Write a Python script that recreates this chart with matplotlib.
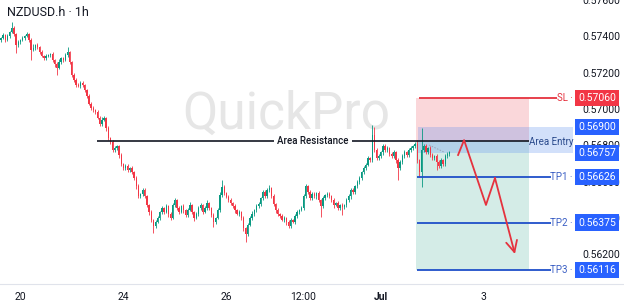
import numpy as np
import matplotlib
matplotlib.use("Agg")
import matplotlib.pyplot as plt
from matplotlib.lines import Line2D
from matplotlib.patches import Rectangle

plt.rcParams['font.family'] = ['Roboto', 'DejaVu Sans']

# hourly closes NZDUSD.h
closes = [
    0.57391, 0.57407, 0.57380, 0.57402, 0.57424, 0.57446, 0.57413, 0.57352, 0.57369, 0.57380,
    0.57391, 0.57402, 0.57413, 0.57380, 0.57325, 0.57336, 0.57352, 0.57341, 0.57314, 0.57292,
    0.57281, 0.57292, 0.57297, 0.57303, 0.57270, 0.57248, 0.57226, 0.57259, 0.57281, 0.57270,
    0.57297, 0.57314, 0.57259, 0.57187, 0.57160, 0.57132, 0.57127, 0.57143, 0.57132, 0.57105,
    0.57072, 0.57028, 0.57006, 0.56995, 0.56984, 0.56951, 0.56918, 0.56940, 0.56951, 0.56895,
    0.56840, 0.56818, 0.56774, 0.56785, 0.56796, 0.56747, 0.56697, 0.56675, 0.56686, 0.56664,
    0.56675, 0.56653, 0.56620, 0.56576, 0.56521, 0.56532, 0.56554, 0.56521, 0.56472, 0.56433,
    0.56389, 0.56356, 0.56378, 0.56400, 0.56433, 0.56455, 0.56433, 0.56466, 0.56422, 0.56400,
    0.56472, 0.56499, 0.56455, 0.56433, 0.56466, 0.56444, 0.56417, 0.56444, 0.56472, 0.56433,
    0.56400, 0.56422, 0.56455, 0.56472, 0.56433, 0.56455, 0.56483, 0.56455, 0.56417, 0.56378,
    0.56400, 0.56444, 0.56527, 0.56571, 0.56538, 0.56516, 0.56499, 0.56483, 0.56466, 0.56444,
    0.56422, 0.56433, 0.56400, 0.56345, 0.56312, 0.56362, 0.56400, 0.56422, 0.56444, 0.56466,
    0.56477, 0.56510, 0.56543, 0.56521, 0.56554, 0.56565, 0.56521, 0.56477, 0.56444, 0.56422,
    0.56411, 0.56389, 0.56400, 0.56378, 0.56356, 0.56389, 0.56378, 0.56411, 0.56433, 0.56444,
    0.56455, 0.56521, 0.56576, 0.56543, 0.56510, 0.56532, 0.56521, 0.56538, 0.56499, 0.56466,
    0.56510, 0.56527, 0.56532, 0.56521, 0.56499, 0.56472, 0.56483, 0.56455, 0.56472, 0.56461,
    0.56472, 0.56499, 0.56521, 0.56554, 0.56543, 0.56576, 0.56598, 0.56620, 0.56653, 0.56675,
    0.56692, 0.56730, 0.56719, 0.56857, 0.56774, 0.56730, 0.56741, 0.56763, 0.56796, 0.56774,
    0.56785, 0.56752, 0.56741, 0.56763, 0.56719, 0.56675, 0.56708, 0.56741, 0.56763, 0.56747,
    0.56774, 0.56785, 0.56796, 0.56807, 0.56719, 0.56653, 0.56774, 0.56796, 0.56763, 0.56785,
    0.56747, 0.56730, 0.56741, 0.56708, 0.56686, 0.56719, 0.56697, 0.56741, 0.56752, 0.56763,
]
first_open = 0.57380

# wick lengths in points (1e-5)
wick_up = [
    8, 10, 6, 12, 8, 33, 10, 6, 9, 7,
    12, 8, 10, 6, 9, 20, 8, 10, 6, 9,
    7, 10, 8, 6, 12, 7, 9, 14, 8, 6,
    10, 27, 8, 6, 10, 8, 9, 12, 10, 8,
    6, 9, 8, 12, 7, 10, 8, 14, 10, 6,
    12, 8, 10, 14, 8, 6, 10, 8, 12, 9,
    8, 10, 6, 9, 12, 8, 10, 14, 6, 8,
    10, 8, 12, 9, 7, 14, 8, 10, 6, 12,
    9, 12, 8, 10, 7, 12, 8, 10, 14, 8,
    6, 10, 9, 12, 8, 10, 14, 8, 6, 10,
    8, 12, 14, 38, 10, 8, 12, 9, 7, 10,
    8, 12, 6, 10, 8, 12, 9, 14, 8, 10,
    12, 8, 10, 14, 9, 17, 8, 10, 6, 9,
    8, 12, 10, 6, 9, 12, 8, 10, 14, 8,
    10, 12, 10, 8, 14, 9, 12, 8, 10, 6,
    12, 8, 10, 9, 7, 12, 8, 10, 6, 9,
    8, 10, 12, 9, 14, 8, 10, 12, 8, 14,
    10, 12, 8, 55, 45, 10, 12, 8, 14, 10,
    12, 8, 10, 14, 8, 10, 12, 9, 10, 8,
    12, 10, 8, 14, 20, 8, 121, 12, 10, 8,
    12, 10, 8, 9, 10, 12, 8, 10, 9, 8,
]
wick_dn = [
    10, 8, 12, 6, 9, 8, 10, 44, 8, 10,
    6, 9, 8, 12, 55, 8, 10, 9, 12, 8,
    10, 12, 8, 9, 10, 14, 39, 8, 10, 9,
    8, 10, 12, 9, 14, 10, 8, 12, 10, 9,
    12, 8, 10, 9, 14, 8, 12, 10, 8, 14,
    10, 12, 8, 10, 9, 14, 12, 8, 10, 9,
    10, 12, 8, 14, 10, 8, 12, 9, 10, 14,
    12, 38, 10, 8, 12, 9, 10, 8, 14, 12,
    8, 10, 12, 9, 8, 14, 10, 12, 8, 10,
    14, 8, 10, 12, 9, 8, 10, 12, 14, 27,
    10, 8, 12, 9, 10, 8, 12, 10, 9, 14,
    8, 12, 10, 14, 44, 10, 8, 12, 9, 10,
    8, 12, 10, 9, 8, 10, 12, 8, 14, 10,
    12, 8, 10, 14, 12, 10, 8, 12, 9, 10,
    8, 12, 10, 9, 8, 12, 10, 14, 8, 60,
    10, 8, 12, 9, 10, 14, 8, 12, 10, 44,
    12, 10, 8, 14, 9, 10, 8, 12, 10, 8,
    10, 8, 12, 10, 9, 12, 8, 10, 14, 10,
    8, 12, 10, 9, 14, 66, 10, 8, 12, 9,
    10, 8, 12, 9, 14, 27, 82, 10, 12, 8,
    10, 12, 9, 44, 10, 8, 12, 9, 10, 8,
]

x_ticks = [9, 57, 105, 141, 177, 225]
x_labels = ["20", "24", "26", "12:00", "Jul", "3"]
y_ticks = [0.576, 0.574, 0.572, 0.570, 0.568, 0.566, 0.564, 0.562]

resistance = 0.56824
sl = 0.57060
entry_top = 0.56900
entry = 0.56757
tps = [0.56626, 0.56375, 0.56116]
tp_names = ["TP1", "TP2", "TP3"]

# trade box spans (bar index)
box_start, box_end = 193.4, 246
entry_start, entry_end = 194.3, 266.5
res_start = 44.7

arrow_x = [213, 215.8, 226, 230.2, 239.5]
arrow_y = [0.56747, 0.56829, 0.56472, 0.56620, 0.56202]

# small dotted drawing near the last bars
dot_x = [199.5, 206.5]
dot_y = [0.56802, 0.56763]

GREEN = '#089981'
RED = '#f23645'
BLUE = '#2962ff'
LINE_BLUE = '#1f4fc9'
TXT = '#131722'

fig = plt.figure(figsize=(6.24, 3.06), dpi=100)
ax = fig.add_axes([0, 0.0719, 0.9215, 0.9281])
ax.set_xlim(-0.47, 267.5)
ax.set_ylim(0.56037, 0.57600)

# candles
c = np.array(closes)
o = np.array([first_open] + closes[:-1])
idx = np.arange(len(c))
hi = np.maximum(o, c) + np.array(wick_up) * 1e-5
lo = np.minimum(o, c) - np.array(wick_dn) * 1e-5
cols = [GREEN if cc >= oo else RED for oo, cc in zip(o, c)]
body = np.maximum(np.abs(c - o), 0.00002)
ax.vlines(idx, lo, hi, colors=cols, lw=0.6, zorder=3)
ax.bar(idx, body, bottom=np.minimum(o, c), width=0.62, color=cols, lw=0, zorder=3)

# watermark
ax.text(0.498, 0.595, "QuickPro", transform=ax.transAxes, fontsize=37,
        color='#e6e6e6', ha='center', va='center', zorder=0.5)

# zones: risk above the resistance level, reward below
ax.add_patch(Rectangle((box_start, resistance), box_end - box_start, sl - resistance,
                       color='#fad7da', lw=0, zorder=1))
ax.add_patch(Rectangle((box_start, tps[2]), box_end - box_start, resistance - tps[2],
                       color='#d4ece7', lw=0, zorder=1))
ax.add_patch(Rectangle((entry_start, entry), entry_end - entry_start,
                       entry_top - entry, color='#5b8def', alpha=0.27, lw=0, zorder=2))
ax.plot(dot_x, dot_y, color='#9aa3b5', lw=0.7, ls=(0, (1.5, 1.5)), zorder=4)

# resistance
ax.hlines(resistance, res_start, box_end, color=TXT, lw=1.2, zorder=4)
ax.text(145.4, resistance, "Area Resistance", fontsize=7, color=TXT, ha='center',
        va='center', fontweight='medium', zorder=5,
        bbox=dict(boxstyle='square,pad=0.3', fc='white', ec='none'))
ax.text(256.3, 0.56818, "Area Entry", fontsize=7, color='#2a4a8c', ha='center',
        va='center', zorder=5)

# SL / TP lines
ax.hlines(sl, 194.8, 259, color='#e5323e', lw=1.3, zorder=4)
ax.text(266.5, sl, "SL ·", fontsize=7, color='#e5323e', ha='right', va='center', zorder=5)
for v, name in zip(tps, tp_names):
    ax.hlines(v, 193.8, 256.3, color=LINE_BLUE, lw=1.3, zorder=4)
    ax.text(266.5, v, name + " ·", fontsize=7, color='#3b5fc4', ha='right',
            va='center', zorder=5)

# arrow
ax.plot(arrow_x[:-1], arrow_y[:-1], color='#e5323e', lw=1.3, zorder=5)
ax.annotate('', xy=(arrow_x[-1], arrow_y[-1]), xytext=(arrow_x[-2], arrow_y[-2]),
            arrowprops=dict(arrowstyle='->,head_width=0.4,head_length=0.8',
                            color='#e5323e', lw=1.3, shrinkA=0, shrinkB=0), zorder=5)

# axes styling
for s in ax.spines.values():
    s.set_visible(False)
ax.yaxis.tick_right()
ax.set_yticks(y_ticks)
ax.set_yticklabels([f"{v:.5f}" for v in y_ticks])
ax.tick_params(axis='y', length=0, pad=5, labelsize=7.5, labelcolor=TXT)
ax.set_xticks(x_ticks)
ax.set_xticklabels(x_labels)
ax.tick_params(axis='x', length=0, pad=6, labelsize=7.5, labelcolor=TXT)
for lab in ax.get_xticklabels():
    if lab.get_text() == "Jul":
        lab.set_fontweight('bold')

# price label boxes on the scale
labels = [(sl, RED)] + [(entry_top, BLUE), (entry, BLUE)] + [(v, BLUE) for v in tps]
for v, col in labels:
    ax.annotate(f"{v:.5f}", xy=(1, v), xycoords=('axes fraction', 'data'),
                xytext=(2.5, 0), textcoords='offset points', ha='left', va='center',
                color='white', fontsize=7.5, annotation_clip=False, zorder=6,
                bbox=dict(boxstyle='square,pad=0.3', fc=col, ec='none'))

fig.add_artist(Line2D([0, 1], [0.0719, 0.0719], transform=fig.transFigure,
                      color='#e0e3eb', lw=0.8))
fig.text(7 / 624, 1 - 13 / 306, "NZDUSD.h · 1h", fontsize=9, color=TXT, va='center')

fig.savefig("out.png", dpi=100)
